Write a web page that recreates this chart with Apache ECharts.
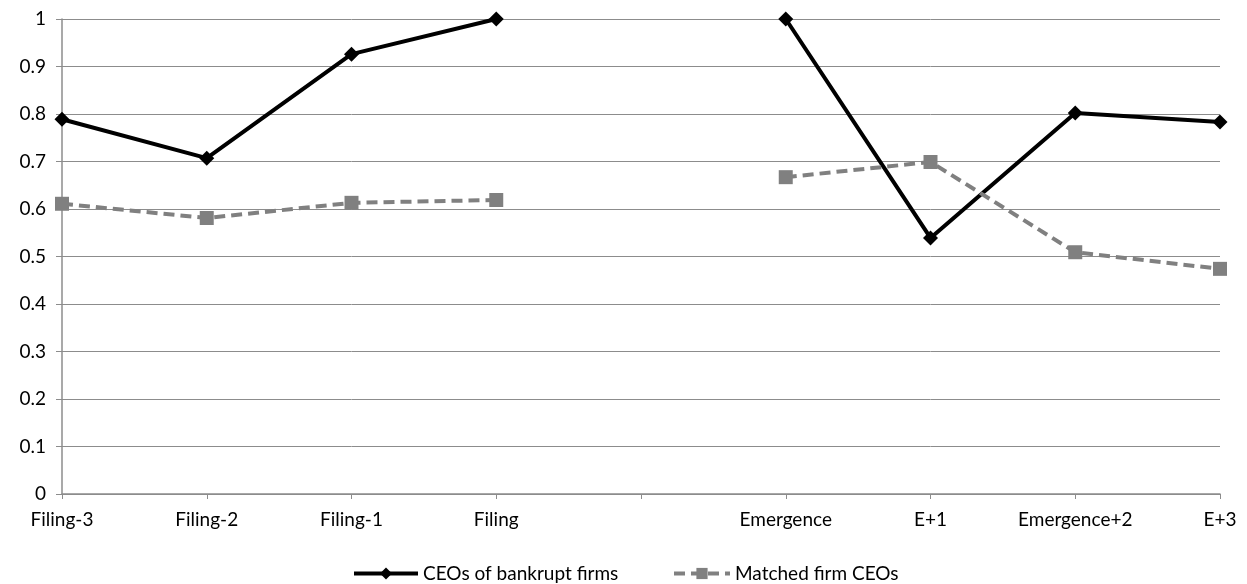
<!DOCTYPE html>
<html><head><meta charset="utf-8">
<script src="https://cdn.jsdelivr.net/npm/echarts@6/dist/echarts.min.js"></script>
<style>html,body{margin:0;padding:0;background:#fff}#c{width:1247px;height:584px}</style>
</head><body><div id="c"></div>
<script>
var categories = ['Filing-3','Filing-2','Filing-1','Filing','','Emergence','E+1','Emergence+2','E+3'];
var bankruptCEOs = [0.789, 0.707, 0.926, 1.0, null, 1.0, 0.539, 0.802, 0.783];
var matchedCEOs = [0.611, 0.581, 0.613, 0.619, null, 0.667, 0.699, 0.509, 0.474];
var yTicks = [0, 0.1, 0.2, 0.3, 0.4, 0.5, 0.6, 0.7, 0.8, 0.9, 1];

var font = 'Lato';
var fs = 19;
var chart = echarts.init(document.getElementById('c'));
chart.setOption({
  animation: false,
  grid: {left: 62, right: 27, top: 19, bottom: 90, containLabel: false},
  legend: [
    {
      top: 559, left: 347, itemWidth: 64, itemHeight: 15, padding: 5,
      textStyle: {fontFamily: font, fontSize: fs, color: '#000'},
      data: [{name: 'CEOs of bankrupt firms', lineStyle: {width: 4}}]
    },
    {
      top: 559, left: 667, itemWidth: 56, itemHeight: 14, padding: 5,
      textStyle: {fontFamily: font, fontSize: fs, color: '#000'},
      data: [{name: 'Matched firm CEOs', lineStyle: {width: 4}}]
    }
  ],
  xAxis: {
    type: 'category', data: categories, boundaryGap: false,
    axisLine: {lineStyle: {color: '#8c8c8c', width: 1.5}},
    axisTick: {show: true, length: 5, lineStyle: {color: '#8c8c8c'}, alignWithLabel: true},
    axisLabel: {fontFamily: font, fontSize: fs, color: '#000', margin: 16, interval: 0},
    splitLine: {show: false}
  },
  yAxis: {
    type: 'value', min: 0, max: 1, interval: 0.1,
    axisLine: {show: true, lineStyle: {color: '#8c8c8c', width: 1.5}},
    axisTick: {show: true, length: 6, lineStyle: {color: '#8c8c8c'}},
    axisLabel: {fontFamily: font, fontSize: fs, color: '#000', margin: 16,
      formatter: function(v){ var t = yTicks.find(function(x){return Math.abs(x-v)<1e-9;}); return t===undefined? '' : String(t); }},
    splitLine: {lineStyle: {color: '#8c8c8c', width: 1}}
  },
  series: [
    {
      name: 'CEOs of bankrupt firms', type: 'line', data: bankruptCEOs, connectNulls: false,
      symbol: 'diamond', symbolSize: 15,
      lineStyle: {color: '#000', width: 4},
      itemStyle: {color: '#000'}
    },
    {
      name: 'Matched firm CEOs', type: 'line', data: matchedCEOs, connectNulls: false,
      symbol: 'rect', symbolSize: 14,
      lineStyle: {color: '#808080', width: 4, type: [11, 6]},
      itemStyle: {color: '#808080'}
    }
  ]
});
</script></body></html>
